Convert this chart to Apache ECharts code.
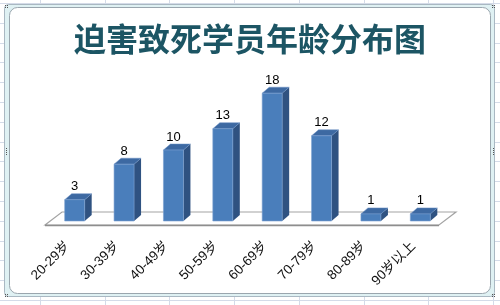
<!DOCTYPE html>
<html>
<head>
<meta charset="utf-8">
<script src="https://cdn.jsdelivr.net/npm/echarts@6/dist/echarts.min.js"></script>
<style>
html,body{margin:0;padding:0;background:#fff;}
#c{width:500px;height:305px;}
</style>
</head>
<body>
<div id="c"></div>
<script>
var titleText = '迫害致死学员年龄分布图';
var categories = ['20-29岁','30-39岁','40-49岁','50-59岁','60-69岁','70-79岁','80-89岁','90岁以上'];
var values = [3, 8, 10, 13, 18, 12, 1, 1];

var W = 500, H = 305;
var GRID_LEFT = 50, GRID_RIGHT = 55, BASE_Y = 221, Y_MAX = 20, UNIT = 7.1;
var GRID_TOP = BASE_Y - Y_MAX * UNIT;
var DX = 7, DY = -6, BAR_RATIO = 0.405;
var LABEL_SHIFT = 7, FRONT_DROP = 4, BACK_RISE = 9;

var chart = echarts.init(document.getElementById('c'), null, {renderer: 'canvas'});

// background decoration: spreadsheet grid + chart frame
var bg = [];
for (var gx = 40; gx < W; gx += 64.7) {
  bg.push({type: 'line', shape: {x1: Math.round(gx) + 0.5, y1: 0, x2: Math.round(gx) + 0.5, y2: H}, style: {stroke: '#d4dbe8', lineWidth: 1}, z: -10});
}
for (var gy = 3; gy < H; gy += 19.8) {
  bg.push({type: 'line', shape: {x1: 0, y1: Math.round(gy) + 0.5, x2: W, y2: Math.round(gy) + 0.5}, style: {stroke: '#d4dbe8', lineWidth: 1}, z: -10});
}
bg.push({type: 'rect', shape: {x: 4.5, y: 4.5, width: 490, height: 292, r: 4}, style: {fill: '#dff1f3', stroke: '#a9b8c2', lineWidth: 1}, z: -9});
bg.push({type: 'rect', shape: {x: 9.5, y: 7.5, width: 481, height: 286, r: 8}, style: {fill: '#ffffff', stroke: '#9aa6ae', lineWidth: 1}, z: -8});
// selection handles
function dots(cx, cy, pts) {
  pts.forEach(function (p) {
    bg.push({type: 'rect', shape: {x: cx + p[0], y: cy + p[1], width: 1, height: 1}, style: {fill: '#555'}, z: -7});
  });
}
var corner = [[0,0],[2,0],[0,2],[2,2]];
dots(5, 5, corner); dots(492, 5, corner); dots(5, 294, corner); dots(492, 294, corner);
var vert = [[0,0],[0,2],[0,4],[0,6]];
dots(6, 148, vert); dots(493, 148, vert);

// floor of the 3D plot
var gRight = W - GRID_RIGHT;
var floorPts = [
  [GRID_LEFT - 5, BASE_Y + FRONT_DROP],
  [GRID_LEFT + 12, BASE_Y - BACK_RISE],
  [gRight + 11, BASE_Y - BACK_RISE],
  [gRight - 6, BASE_Y + FRONT_DROP]
];
bg.push({type: 'polygon', shape: {points: floorPts}, style: {fill: '#ffffff', stroke: '#a3a3a3', lineWidth: 1.2}, z: -5});
bg.push({type: 'line', shape: {x1: floorPts[0][0], y1: floorPts[0][1] + 0.5, x2: floorPts[3][0], y2: floorPts[3][1] + 0.5}, style: {stroke: '#8e8e8e', lineWidth: 1.5}, z: -4});

function renderBar(params, api) {
  var idx = api.value(0), v = api.value(1);
  var top = api.coord([idx, v]);
  var base = api.coord([idx, 0]);
  var w = api.size([1, 0])[0] * BAR_RATIO;
  var x0 = top[0] - w / 2, x1 = top[0] + w / 2;
  var yt = top[1], yb = base[1];
  return {
    type: 'group',
    children: [
      {type: 'polygon', shape: {points: [[x1, yt], [x1 + DX, yt + DY], [x1 + DX, yb + DY], [x1, yb]]}, style: {fill: '#2f5281'}},
      {type: 'polygon', shape: {points: [[x0, yt], [x0 + DX, yt + DY], [x1 + DX, yt + DY], [x1, yt]]}, style: {fill: '#3d69a2', stroke: '#6a90c4', lineWidth: 0.5}},
      {type: 'rect', shape: {x: x0, y: yt, width: w, height: yb - yt}, style: {fill: '#4a7ebb', stroke: '#7aa0d0', lineWidth: 0.6}},
      {type: 'text', style: {text: String(v), x: top[0], y: yt - 13, align: 'center', verticalAlign: 'middle', fill: '#000', font: '13px "Liberation Sans", sans-serif'}}
    ]
  };
}

chart.setOption({
  animation: false,
  backgroundColor: '#ffffff',
  graphic: bg,
  title: {
    text: titleText,
    left: 'center',
    top: 18,
    textStyle: {fontFamily: '"Noto Sans CJK SC", sans-serif', fontSize: 32, fontWeight: 'bold', color: '#1c5564'}
  },
  grid: [
    {left: GRID_LEFT, right: GRID_RIGHT, top: GRID_TOP, bottom: H - BASE_Y},
    {left: GRID_LEFT - LABEL_SHIFT, right: GRID_RIGHT + LABEL_SHIFT, top: GRID_TOP, bottom: H - BASE_Y - FRONT_DROP}
  ],
  xAxis: [
    {type: 'category', gridIndex: 0, data: categories, axisLine: {show: false}, axisTick: {show: false}, axisLabel: {show: false}},
    {type: 'category', gridIndex: 1, data: categories, axisLine: {show: false}, axisTick: {show: false},
     axisLabel: {rotate: 45, margin: 19, interval: 0, color: '#111', fontSize: 13.5, fontFamily: '"Liberation Sans", "Noto Sans CJK SC", sans-serif'}}
  ],
  yAxis: [
    {type: 'value', gridIndex: 0, min: 0, max: Y_MAX, show: false, splitLine: {show: false}},
    {type: 'value', gridIndex: 1, min: 0, max: Y_MAX, show: false, splitLine: {show: false}}
  ],
  series: [{
    type: 'custom',
    xAxisIndex: 0,
    yAxisIndex: 0,
    renderItem: renderBar,
    data: values.map(function (v, i) { return [i, v]; })
  }]
});
</script>
</body>
</html>
